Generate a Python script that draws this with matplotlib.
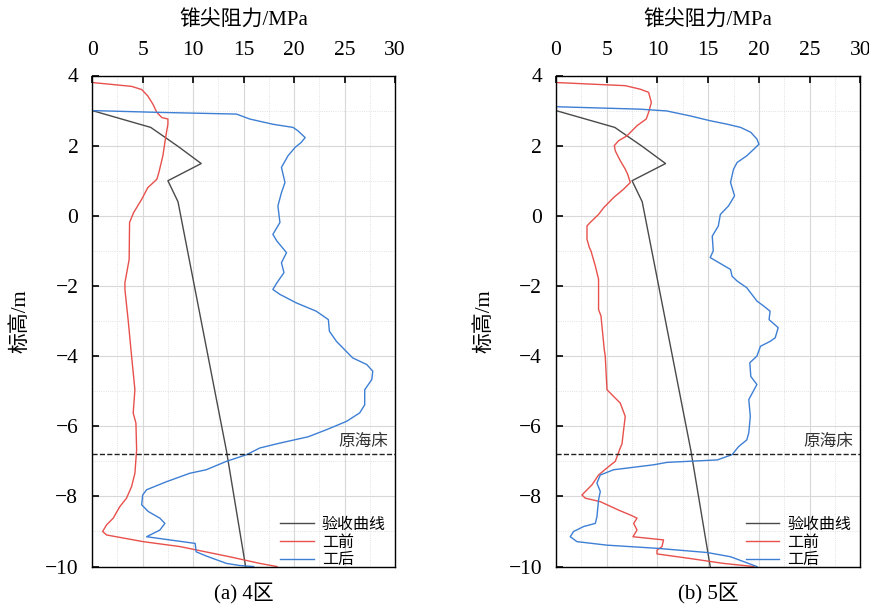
import numpy as np
import matplotlib
matplotlib.use("Agg")
import matplotlib.pyplot as plt
from matplotlib.ticker import MultipleLocator

plt.rcParams['font.family'] = ['Liberation Serif', 'Noto Sans CJK SC', 'DejaVu Sans']

# 验收曲线 (same for both zones)
acc_q = [0.0, 5.8, 8.5, 10.8, 7.5, 8.5, 13.3, 15.2]
acc_z = [3.0, 2.52, 1.98, 1.49, 1.0, 0.4, -6.7, -10.0]

# 4区 工前
pre4_q = [0.0, 3.9, 4.9, 5.5, 6.0, 6.4, 6.9, 7.5, 7.5, 7.3, 7.0, 6.6, 6.4, 5.5, 4.9, 4.1,
          3.7, 3.66, 3.24, 3.24, 3.57, 3.9, 4.23, 4.06, 4.33, 4.4, 4.23, 3.9, 3.4, 2.74,
          2.08, 1.43, 1.03, 1.43, 5.05, 8.68, 13.6, 16.6, 18.3]
pre4_z = [3.8, 3.69, 3.6, 3.42, 3.19, 2.95, 2.8, 2.76, 2.61, 2.28, 1.71, 1.23, 1.04, 0.8, 0.47, 0.09,
          -0.19, -1.24, -1.91, -2.1, -3.0, -4.0, -4.96, -5.62, -5.91, -6.67, -7.34, -7.72, -8.05, -8.29,
          -8.62, -8.81, -9.0, -9.1, -9.29, -9.43, -9.72, -9.91, -10.0]

# 4区 工后
post4_q = [0.0, 6.4, 14.3, 15.6, 17.9, 19.9, 20.4, 21.1, 20.7, 20.1, 19.4, 18.75, 19.1, 18.75,
           18.4, 18.6, 17.9, 18.3, 19.25, 18.75, 19.0, 18.3, 17.9, 18.6, 20.2, 22.2, 23.4, 23.5,
           24.2, 24.85, 25.8, 27.2, 27.8, 27.7, 27.0, 27.0, 26.5, 25.2, 23.2, 21.4, 18.6, 16.6,
           15.3, 13.3, 11.3, 9.67, 7.37, 5.39, 5.0, 4.9, 5.55, 6.7, 7.2, 6.7, 5.39, 10.2, 10.3,
           11.3, 13.3, 14.6, 16.0]
post4_z = [3.0, 2.95, 2.9, 2.76, 2.61, 2.52, 2.42, 2.23, 2.09, 1.95, 1.71, 1.38, 0.95, 0.66,
           0.28, -0.19, -0.53, -0.72, -1.05, -1.34, -1.62, -1.91, -2.1, -2.24, -2.48, -2.72, -2.96, -3.29,
           -3.58, -3.77, -4.05, -4.24, -4.43, -4.67, -4.96, -5.39, -5.62, -5.86, -6.1, -6.3, -6.48, -6.62,
           -6.81, -7.0, -7.24, -7.34, -7.58, -7.81, -7.96, -8.24, -8.43, -8.62, -8.77, -8.96, -9.15, -9.34, -9.58,
           -9.7, -9.91, -9.97, -10.0]

# 5区 工前
pre5_q = [0.0, 6.83, 8.3, 9.13, 9.4, 9.13, 8.9, 7.99, 7.0, 6.17, 5.75, 5.85, 6.34, 6.83, 7.06,
          7.33, 6.67, 5.68, 4.7, 4.2, 3.38, 3.06, 3.06, 3.3, 3.45, 3.88, 4.2, 4.2, 4.44, 4.76,
          4.86, 5.03, 6.34, 6.83, 6.67, 6.51, 6.27, 5.85, 5.19, 4.2, 3.55, 2.56, 2.89, 4.37,
          6.17, 7.33, 7.99, 7.66, 7.99, 7.59, 10.6, 10.45, 9.96, 9.96, 13.2, 16.5, 19.5]
pre5_z = [3.8, 3.71, 3.61, 3.52, 3.23, 2.95, 2.76, 2.57, 2.28, 2.14, 2.0, 1.85, 1.57, 1.33, 1.19,
          0.95, 0.76, 0.52, 0.23, 0.04, -0.19, -0.29, -0.67, -0.91, -1.0, -1.43, -1.81, -2.67, -2.86, -3.81,
          -4.0, -4.96, -5.34, -5.72, -6.1, -6.5, -6.67, -7.0, -7.15, -7.39, -7.67, -7.96, -8.05, -8.15,
          -8.39, -8.53, -8.62, -8.77, -8.96, -9.15, -9.24, -9.43, -9.53, -9.64, -9.77, -9.91, -10.0]

# 5区 工后
post5_q = [0.0, 8.3, 10.9, 13.2, 15.2, 16.9, 18.2, 19.2, 19.8, 20.0, 19.5, 18.8, 17.85, 17.5,
           17.2, 17.6, 17.0, 16.2, 16.0, 15.4, 15.5, 15.2, 17.2, 17.35, 17.85, 18.8, 19.8, 20.5,
           21.1, 21.0, 21.9, 21.6, 21.1, 20.15, 19.8, 19.1, 19.2, 19.8, 19.0, 19.15, 19.0, 18.8,
           18.0, 17.35, 15.9, 10.95, 9.6, 5.68, 4.37, 4.04, 4.37, 4.2, 4.04, 3.88, 2.72, 1.74,
           1.41, 2.07, 5.03, 9.96, 14.9, 17.2, 18.5, 19.8]
post5_z = [3.11, 3.04, 2.99, 2.85, 2.71, 2.61, 2.52, 2.38, 2.19, 2.04, 1.9, 1.71, 1.52, 1.33,
           0.95, 0.57, 0.28, 0.04, -0.29, -0.58, -1.0, -1.19, -1.53, -1.72, -1.86, -2.05, -2.43, -2.58,
           -2.72, -2.96, -3.19, -3.48, -3.58, -3.72, -4.0, -4.19, -4.58, -4.81, -5.24, -5.72, -6.19, -6.39,
           -6.58, -6.81, -6.96, -7.03, -7.1, -7.24, -7.39, -7.62, -7.86, -8.1, -8.58, -8.77, -8.86, -9.0,
           -9.15, -9.29, -9.39, -9.48, -9.6, -9.72, -9.86, -10.0]

seabed = -6.8
panels = [
    ("(a) 4区", pre4_q, pre4_z, post4_q, post4_z),
    ("(b) 5区", pre5_q, pre5_z, post5_q, post5_z),
]

fig = plt.figure(figsize=(8.7, 6.04), dpi=100)
axes = [fig.add_axes([0.106, 0.062, 0.348, 0.813]),
        fig.add_axes([0.639, 0.062, 0.350, 0.813])]

for ax, (cap, pq, pz, aq, az) in zip(axes, panels):
    ax.plot(acc_q, acc_z, color='#4a4a4a', lw=1.0, label='验收曲线')
    ax.plot(pq, pz, color='#e8504c', lw=1.0, label='工前')
    ax.plot(aq, az, color='#3d7fd4', lw=1.0, label='工后')
    ax.axhline(seabed, color='#222222', lw=1.0, ls='--')
    ax.text(29.3, seabed + 0.12, '原海床', ha='right', va='bottom', fontsize=12, color='#333333')

    ax.set_xlim(0, 30)
    ax.set_ylim(-10, 4)
    ax.xaxis.set_major_locator(MultipleLocator(5))
    ax.xaxis.set_minor_locator(MultipleLocator(2.5))
    ax.yaxis.set_major_locator(MultipleLocator(2))
    ax.yaxis.set_minor_locator(MultipleLocator(1))
    ax.xaxis.tick_top()
    ax.xaxis.set_label_position('top')
    ax.tick_params(which='major', direction='in', length=5, width=1.2, labelsize=15.5,
                   top=True, bottom=False, left=True, right=False)
    ax.tick_params(axis='x', which='major', pad=11)
    ax.tick_params(axis='y', which='major', pad=10)
    ax.tick_params(which='minor', length=0)
    ax.grid(which='major', color='#d8d8d8', lw=0.8)
    ax.grid(which='minor', color='#d8d8d8', lw=0.6, ls=':')
    ax.set_axisbelow(True)
    for s in ax.spines.values():
        s.set_linewidth(1.0)
    ax.set_xlabel('锥尖阻力/MPa', fontsize=15, labelpad=11)
    ax.set_ylabel('标高/m', fontsize=15, labelpad=10)
    ax.legend(loc='lower right', frameon=False, fontsize=11.5, handlelength=2.1,
              labelspacing=0.1, handletextpad=0.5, borderaxespad=0, borderpad=0.2,
              bbox_to_anchor=(0.98, -0.01))
    pos = ax.get_position()
    fig.text(pos.x0 + pos.width / 2, 0.0166, cap, ha='center', va='center', fontsize=15)

fig.savefig('out.png', dpi=100)
